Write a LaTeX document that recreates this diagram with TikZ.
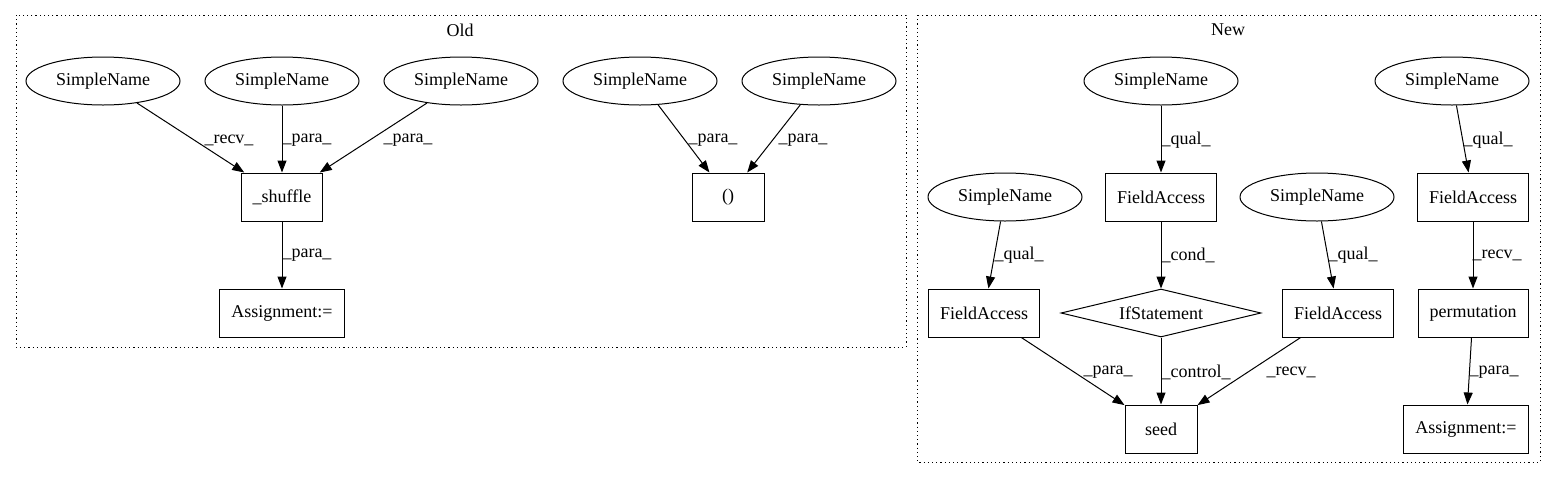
\documentclass[tikz,border=0pt]{standalone}
\usepackage{fontspec}
\setmainfont{Liberation Serif}
\usetikzlibrary{arrows.meta,shapes.geometric}
\tikzset{
  sname/.style={draw,ellipse,inner sep=0pt,line width=1pt,minimum width=154pt,minimum height=48pt},
  stmt/.style={draw,rectangle,inner xsep=11.5pt,inner ysep=0pt,line width=1pt,minimum width=72pt,minimum height=48pt},
  cond/.style={draw,diamond,inner sep=0pt,aspect=4,line width=1pt,minimum width=200pt,minimum height=48pt},
  lbl/.style={inner sep=0pt},
  edge/.style={-{Triangle[length=12pt,width=9pt]},line width=1pt},
  cluster/.style={line width=1pt,dash pattern=on 1.2pt off 3pt}
}
\begin{document}
\begin{tikzpicture}[x=1pt,y=-1pt,font=\fontsize{18}{21}\selectfont]
  \useasboundingbox (0,0) rectangle (1556,480);
  % clusters
  \draw [cluster] (16,15) rectangle (906,347);
  \draw [cluster] (917,15) rectangle (1540,462);
  \node [lbl] (old) at (460,30) {Old};
  \node [lbl] (new) at (1228,30) {New};
  % old graph
  \node [sname] (o1) at (103,81) {SimpleName};
  \node [sname] (o2) at (282,81) {SimpleName};
  \node [sname] (o3) at (461,81) {SimpleName};
  \node [sname] (o4) at (640,81) {SimpleName};
  \node [sname] (o5) at (819,81) {SimpleName};
  \node [stmt] (shuffle) at (282,197) {\_shuffle};
  \node [stmt] (paren) at (728,197) {()};
  \node [stmt] (oassign) at (282,313) {Assignment:=};
  \draw [edge] (o1) -- (shuffle);
  \draw [edge] (o2) -- (shuffle);
  \draw [edge] (o3) -- (shuffle);
  \draw [edge] (shuffle) -- (oassign);
  \draw [edge] (o4) -- (paren);
  \draw [edge] (o5) -- (paren);
  \node [lbl] (lo1) at (229,140) {\_recv\_};
  \node [lbl] (lo2) at (307,140) {\_para\_};
  \node [lbl] (lo3) at (408,140) {\_para\_};
  \node [lbl] (lo4) at (307,255) {\_para\_};
  \node [lbl] (lo5) at (713,140) {\_para\_};
  \node [lbl] (lo6) at (803,140) {\_para\_};
  % new graph
  \node [sname] (n1) at (1161,81) {SimpleName};
  \node [sname] (n2) at (1452,81) {SimpleName};
  \node [sname] (n3) at (1005,197) {SimpleName};
  \node [stmt] (fa1) at (1161,197) {FieldAccess};
  \node [sname] (n4) at (1317,197) {SimpleName};
  \node [stmt] (fa2) at (1473,197) {FieldAccess};
  \node [stmt] (fa3) at (984,313) {FieldAccess};
  \node [cond] (ifst) at (1161,313) {IfStatement};
  \node [stmt] (fa4) at (1338,313) {FieldAccess};
  \node [stmt] (perm) at (1473,313) {permutation};
  \node [stmt] (seed) at (1161,429) {seed};
  \node [stmt] (nassign) at (1466,429) {Assignment:=};
  \draw [edge] (n1) -- (fa1);
  \draw [edge] (n2) -- (fa2);
  \draw [edge] (n3) -- (fa3);
  \draw [edge] (n4) -- (fa4);
  \draw [edge] (fa1) -- (ifst);
  \draw [edge] (fa2) -- (perm);
  \draw [edge] (fa3) -- (seed);
  \draw [edge] (ifst) -- (seed);
  \draw [edge] (fa4) -- (seed);
  \draw [edge] (perm) -- (nassign);
  \node [lbl] (ln1) at (1186,140) {\_qual\_};
  \node [lbl] (ln2) at (1488,140) {\_qual\_};
  \node [lbl] (ln3) at (1019,255) {\_qual\_};
  \node [lbl] (ln4) at (1188,255) {\_cond\_};
  \node [lbl] (ln5) at (1353,255) {\_qual\_};
  \node [lbl] (ln6) at (1497,255) {\_recv\_};
  \node [lbl] (ln7) at (1108,372) {\_para\_};
  \node [lbl] (ln8) at (1196,372) {\_control\_};
  \node [lbl] (ln9) at (1291,372) {\_recv\_};
  \node [lbl] (ln10) at (1494,372) {\_para\_};
\end{tikzpicture}
\end{document}
